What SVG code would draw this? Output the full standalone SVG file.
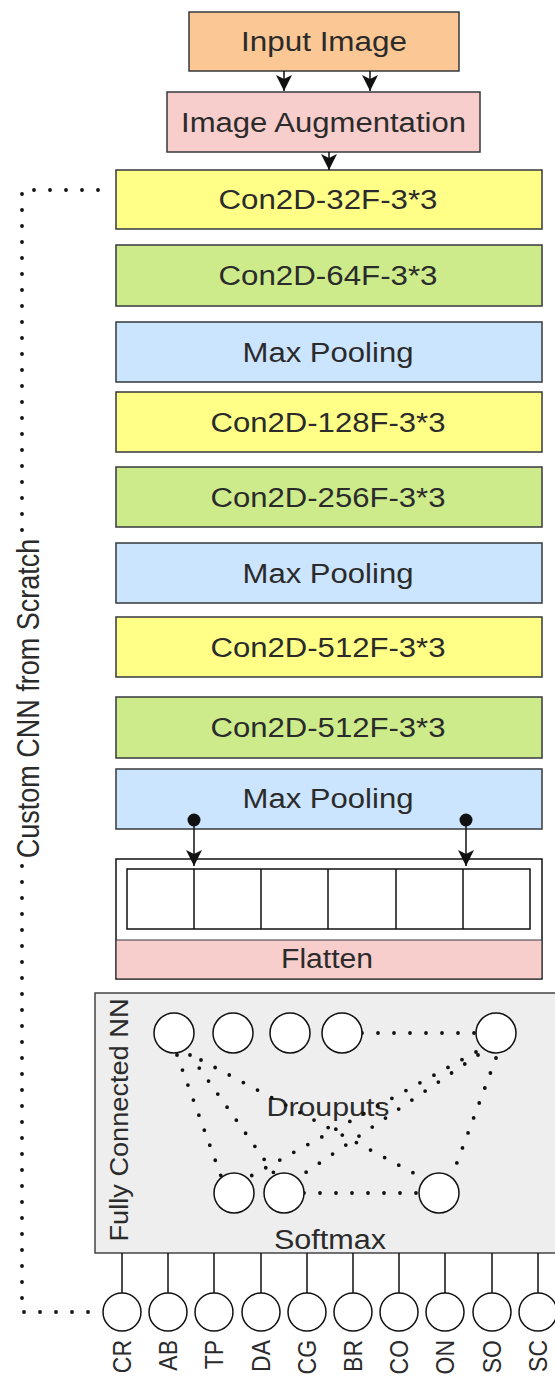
<svg xmlns="http://www.w3.org/2000/svg" width="555" height="1378" viewBox="0 0 555 1378">
<style>
.box{stroke:#36393d;stroke-width:1.5}
.lbl{font-family:"Liberation Sans",Arial,sans-serif;font-size:27px;fill:#2b2b2b;text-anchor:middle}
.sm{font-size:23px}
.dot{fill:none;stroke:#111;stroke-width:3.8;stroke-linecap:round;stroke-dasharray:0 16}
.ln{fill:none;stroke:#111;stroke-width:1.5}
.nc{fill:#fff;stroke:#111;stroke-width:1.5}
.yel{fill:#ffff88}.grn{fill:#cdeb8b}.blu{fill:#cce5ff}.pnk{fill:#f8cecc}.org{fill:#fbc794}
</style>
<defs>
<marker id="arr" markerUnits="userSpaceOnUse" markerWidth="16" markerHeight="16" viewBox="0 0 16 16" refX="16" refY="8" orient="auto">
<path d="M0,0 L16,8 L0,16 L4,8 Z" fill="#111"/>
</marker>
</defs>

<g id="input-image">
<rect class="box org" x="189" y="12" width="270" height="59"/>
<text class="lbl" x="324" y="51" textLength="166" lengthAdjust="spacingAndGlyphs">Input Image</text>
</g>
<g id="image-augmentation">
<rect class="box pnk" x="167" y="92" width="313" height="60"/>
<text class="lbl" x="323.5" y="132" textLength="285" lengthAdjust="spacingAndGlyphs">Image Augmentation</text>
</g>
<g id="conv32">
<rect class="box yel" x="116" y="170" width="426" height="59"/>
<text class="lbl" x="328" y="209" textLength="219" lengthAdjust="spacingAndGlyphs">Con2D-32F-3*3</text>
</g>
<g id="conv64">
<rect class="box grn" x="116" y="245" width="426" height="61"/>
<text class="lbl" x="328" y="285" textLength="219" lengthAdjust="spacingAndGlyphs">Con2D-64F-3*3</text>
</g>
<g id="maxpool1">
<rect class="box blu" x="116" y="322" width="426" height="60"/>
<text class="lbl" x="328" y="361.5" textLength="171" lengthAdjust="spacingAndGlyphs">Max Pooling</text>
</g>
<g id="conv128">
<rect class="box yel" x="116" y="392" width="426" height="60"/>
<text class="lbl" x="328" y="431.5" textLength="235" lengthAdjust="spacingAndGlyphs">Con2D-128F-3*3</text>
</g>
<g id="conv256">
<rect class="box grn" x="116" y="467" width="426" height="60"/>
<text class="lbl" x="328" y="506.5" textLength="235" lengthAdjust="spacingAndGlyphs">Con2D-256F-3*3</text>
</g>
<g id="maxpool2">
<rect class="box blu" x="116" y="543" width="426" height="60"/>
<text class="lbl" x="328" y="582.5" textLength="171" lengthAdjust="spacingAndGlyphs">Max Pooling</text>
</g>
<g id="conv512a">
<rect class="box yel" x="116" y="617" width="426" height="60"/>
<text class="lbl" x="328" y="656.5" textLength="235" lengthAdjust="spacingAndGlyphs">Con2D-512F-3*3</text>
</g>
<g id="conv512b">
<rect class="box grn" x="116" y="697" width="426" height="61"/>
<text class="lbl" x="328" y="737" textLength="235" lengthAdjust="spacingAndGlyphs">Con2D-512F-3*3</text>
</g>
<g id="maxpool3">
<rect class="box blu" x="116" y="769" width="426" height="60"/>
<text class="lbl" x="328" y="808" textLength="171" lengthAdjust="spacingAndGlyphs">Max Pooling</text>
</g>

<g id="flatten">
<rect x="116" y="859" width="426" height="120" fill="#fff" stroke="#111" stroke-width="1.5"/>
<rect class="pnk" x="116.75" y="940" width="424.5" height="38.25"/>
<line x1="116" y1="940" x2="542" y2="940" stroke="#36393d" stroke-width="1"/>
<rect x="127" y="869" width="403" height="60" fill="#fff" stroke="#111" stroke-width="1.5"/>
<path class="ln" d="M194,869V929M261,869V929M328,869V929M396,869V929M463,869V929"/>
<text class="lbl" x="327" y="968" textLength="92" lengthAdjust="spacingAndGlyphs">Flatten</text>
</g>

<g id="fully-connected">
<rect x="95" y="993" width="470" height="260" fill="#eeeeee" stroke="#444" stroke-width="1.5"/>
<text class="lbl" style="font-size:25px" transform="translate(128,1120) rotate(-90)" textLength="243" lengthAdjust="spacingAndGlyphs">Fully Connected NN</text>
<text class="lbl" x="328" y="1116" style="font-size:26px" textLength="123" lengthAdjust="spacingAndGlyphs">Drouputs</text>
<text class="lbl" x="330" y="1249" textLength="112" lengthAdjust="spacingAndGlyphs">Softmax</text>
<g id="fc-edges">
<line class="dot" x1="177" y1="1055" x2="221" y2="1176"/>
<line class="dot" x1="190" y1="1055" x2="276" y2="1176"/>
<line class="dot" x1="201" y1="1060" x2="423" y2="1178"/>
<line class="dot" x1="476" y1="1052" x2="249" y2="1177"/>
<line class="dot" x1="478" y1="1055" x2="299" y2="1177"/>
<line class="dot" x1="496" y1="1058" x2="452" y2="1176"/>
<line class="dot" x1="362" y1="1033" x2="476" y2="1033"/>
<line class="dot" x1="304" y1="1193" x2="419" y2="1193"/>
</g>
<g id="fc-neurons">
<circle class="nc" cx="174" cy="1033" r="20"/>
<circle class="nc" cx="233" cy="1033" r="20"/>
<circle class="nc" cx="290" cy="1033" r="20"/>
<circle class="nc" cx="342" cy="1033" r="20"/>
<circle class="nc" cx="496" cy="1033" r="20"/>
<circle class="nc" cx="234" cy="1193" r="20"/>
<circle class="nc" cx="284" cy="1193" r="20"/>
<circle class="nc" cx="439" cy="1193" r="20"/>
</g>
</g>

<g id="connectors">
<line class="ln" x1="284" y1="71" x2="284" y2="91" marker-end="url(#arr)"/>
<line class="ln" x1="370" y1="71" x2="370" y2="91" marker-end="url(#arr)"/>
<line class="ln" x1="329" y1="152" x2="329" y2="170" marker-end="url(#arr)"/>
<circle cx="194" cy="820" r="6.5" fill="#111"/>
<circle cx="466" cy="820" r="6.5" fill="#111"/>
<line class="ln" x1="194" y1="820" x2="194" y2="866" marker-end="url(#arr)"/>
<line class="ln" x1="466" y1="820" x2="466" y2="866" marker-end="url(#arr)"/>
<path class="ln" d="M122,1253V1293M168,1253V1293M214,1253V1293M261,1253V1293M307,1253V1293M353,1253V1293M399,1253V1293M445,1253V1293M492,1253V1293M538,1253V1293"/>
<path class="dot" d="M98,190H22V1312H98"/>
<rect x="10" y="533" width="34" height="331" fill="#fff"/>
<text class="lbl" transform="translate(39,698.5) scale(1.17,1) rotate(-90)">Custom CNN from Scratch</text>
</g>

<g id="outputs">
<g id="out-CR"><circle class="nc" cx="122" cy="1312" r="19"/><text class="lbl sm" style="text-anchor:end" transform="translate(131,1340) scale(1.1,1) rotate(-90)">CR</text></g>
<g id="out-AB"><circle class="nc" cx="168" cy="1312" r="19"/><text class="lbl sm" style="text-anchor:end" transform="translate(177,1340) scale(1.1,1) rotate(-90)">AB</text></g>
<g id="out-TP"><circle class="nc" cx="214" cy="1312" r="19"/><text class="lbl sm" style="text-anchor:end" transform="translate(223,1340) scale(1.1,1) rotate(-90)">TP</text></g>
<g id="out-DA"><circle class="nc" cx="261" cy="1312" r="19"/><text class="lbl sm" style="text-anchor:end" transform="translate(270,1340) scale(1.1,1) rotate(-90)">DA</text></g>
<g id="out-CG"><circle class="nc" cx="307" cy="1312" r="19"/><text class="lbl sm" style="text-anchor:end" transform="translate(316,1340) scale(1.1,1) rotate(-90)">CG</text></g>
<g id="out-BR"><circle class="nc" cx="353" cy="1312" r="19"/><text class="lbl sm" style="text-anchor:end" transform="translate(362,1340) scale(1.1,1) rotate(-90)">BR</text></g>
<g id="out-CO"><circle class="nc" cx="399" cy="1312" r="19"/><text class="lbl sm" style="text-anchor:end" transform="translate(408,1340) scale(1.1,1) rotate(-90)">CO</text></g>
<g id="out-ON"><circle class="nc" cx="445" cy="1312" r="19"/><text class="lbl sm" style="text-anchor:end" transform="translate(454,1340) scale(1.1,1) rotate(-90)">ON</text></g>
<g id="out-SO"><circle class="nc" cx="492" cy="1312" r="19"/><text class="lbl sm" style="text-anchor:end" transform="translate(501,1340) scale(1.1,1) rotate(-90)">SO</text></g>
<g id="out-SC"><circle class="nc" cx="538" cy="1312" r="19"/><text class="lbl sm" style="text-anchor:end" transform="translate(547,1340) scale(1.1,1) rotate(-90)">SC</text></g>
</g>
</svg>
